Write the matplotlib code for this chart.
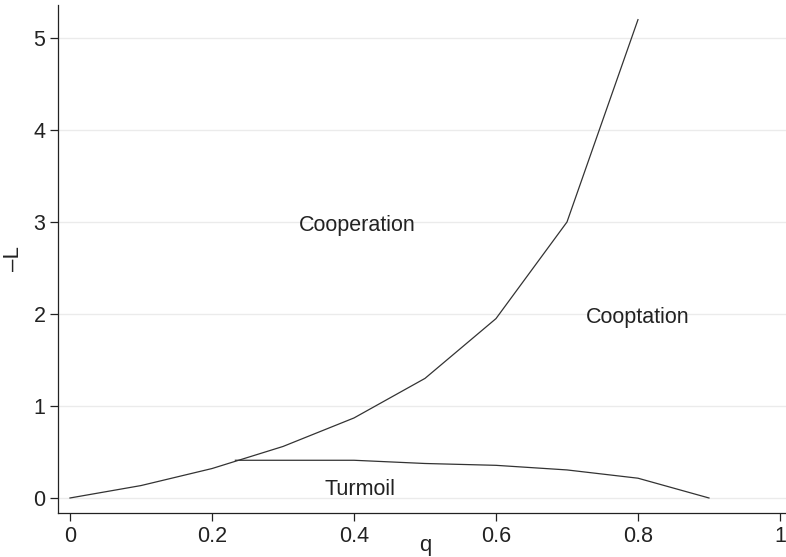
import matplotlib
matplotlib.use("Agg")
import matplotlib.pyplot as plt
from matplotlib import font_manager

# Data
q_upper = [0.0, 0.1, 0.2, 0.3, 0.4, 0.5, 0.6, 0.7, 0.8]
L_upper = [0.0, 0.135, 0.32, 0.56, 0.87, 1.30, 1.95, 3.0, 5.2]
q_lower = [0.233, 0.3, 0.4, 0.5, 0.6, 0.7, 0.8, 0.9]
L_lower = [0.41, 0.41, 0.41, 0.375, 0.355, 0.305, 0.215, 0.0]
x_ticks = [0, 0.2, 0.4, 0.6, 0.8, 1]
x_tick_labels = ["0", "0.2", "0.4", "0.6", "0.8", "1"]
y_ticks = [0, 1, 2, 3, 4, 5]
region_labels = ["Cooperation", "Cooptation", "Turmoil"]
region_pos = [(0.405, 2.96), (0.80, 1.96), (0.408, 0.09)]

names = {f.name for f in font_manager.fontManager.ttflist}
fam = ["Liberation Sans", "DejaVu Sans"]
fam = [f for f in fam if f in names] + ["DejaVu Sans"]
plt.rcParams["font.family"] = fam

fig = plt.figure(figsize=(7.86, 5.57), dpi=100)
ax = fig.add_axes([58 / 786, 1 - 512.7 / 557, 1 - 58 / 786, (512.7 - 5.4) / 557])

line_kw = dict(color="#333333", lw=0.9)
ax.plot(q_upper, L_upper, **line_kw)
ax.plot(q_lower, L_lower, **line_kw)

for txt, (x, y) in zip(region_labels, region_pos):
    ax.text(x, y, txt, ha="center", va="center", fontsize=15.5, color="#222222")

ax.set_xlim(-0.0169, 1.0085)
ax.set_ylim(-0.16, 5.355)
ax.set_xticks(x_ticks)
ax.set_xticklabels(x_tick_labels)
ax.set_yticks(y_ticks)
ax.tick_params(axis="both", labelsize=15.5, length=6, width=0.9, color="#222222",
               labelcolor="#222222", direction="out")
ax.tick_params(axis="y", pad=3)
ax.yaxis.grid(True, color="#ebebeb", lw=1.0)
ax.set_axisbelow(True)
for s in ["top", "right"]:
    ax.spines[s].set_visible(False)
for s in ["left", "bottom"]:
    ax.spines[s].set_linewidth(0.9)
    ax.spines[s].set_color("#222222")

ax.set_xlabel("q", fontsize=16, color="#222222", va="center")
ax.xaxis.set_label_coords((425 - 58) / 728, -(545 - 512.7) / 507.3)
ax.set_ylabel("\u2013L", fontsize=16, color="#222222", va="center")
ax.yaxis.set_label_coords((14 - 58) / 728, 0.5)

fig.savefig("out.png", dpi=100)
